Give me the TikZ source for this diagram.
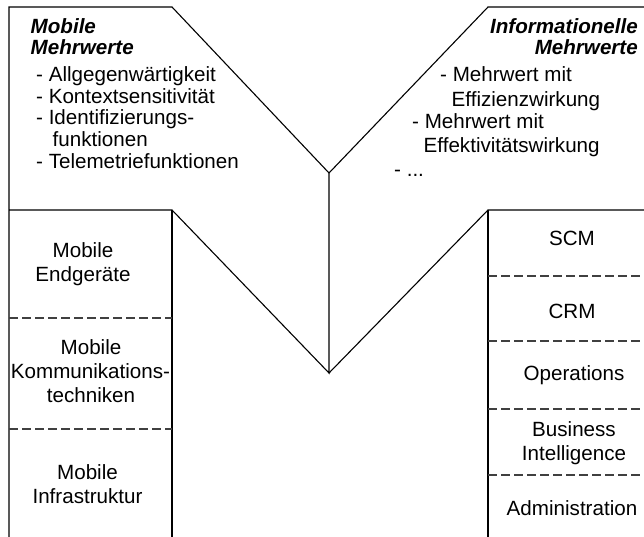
\documentclass[tikz,border=0pt]{standalone}
\usepackage{fontspec}
\setmainfont{Liberation Sans}
\begin{document}
\begin{tikzpicture}[x=1pt,y=-1pt,
  txt/.style={inner sep=0pt, font=\fontsize{20.6}{24}\selectfont},
  hdr/.style={inner sep=0pt, font=\fontsize{20.6}{24}\selectfont\bfseries\itshape},
  sepline/.style={dash pattern=on 9pt off 4pt, draw=black!75, line width=1.1pt},
  edge/.style={line width=1.1pt, line join=miter}]
\useasboundingbox (0,0) rectangle (644,537);
% outline coordinates
\coordinate (tl) at (9,7);
\coordinate (tlc) at (172,7);
\coordinate (vtop) at (329,173);
\coordinate (vbot) at (329,373);
\coordinate (lc) at (172,210);
\coordinate (ll) at (9,210);
\coordinate (lbl) at (9,537);
\coordinate (lbr) at (172,537);
\coordinate (trc) at (488,7);
\coordinate (tr) at (644,7);
\coordinate (rc) at (488,210);
\coordinate (rr) at (644,210);
\coordinate (rbl) at (488,537);
% outlines
\draw[edge] (lbl) -- (tl) -- (tlc) -- (vtop) -- (vbot) -- (lc) -- (ll);
\draw[edge] (lc) -- (lbr);
\draw[edge] (tr) -- (trc) -- (vtop);
\draw[edge] (vbot) -- (rc) -- (rr);
\draw[edge] (rc) -- (rbl);
% dashed separators
\coordinate (l1a) at (9,318);   \coordinate (l1b) at (172,318);
\coordinate (l2a) at (9,429);   \coordinate (l2b) at (172,429);
\coordinate (r1a) at (488,276); \coordinate (r1b) at (644,276);
\coordinate (r2a) at (488,341);   \coordinate (r2b) at (644,341);
\coordinate (r3a) at (488,409); \coordinate (r3b) at (644,409);
\coordinate (r4a) at (488,475);   \coordinate (r4b) at (644,475);
\draw[sepline] (l1a) -- (l1b);
\draw[sepline] (l2a) -- (l2b);
\draw[sepline] (r1a) -- (r1b);
\draw[sepline] (r2a) -- (r2b);
\draw[sepline] (r3a) -- (r3b);
\draw[sepline] (r4a) -- (r4b);
% left top text
\node[hdr, anchor=base west] (lh1) at (30.5,33.3) {Mobile};
\node[hdr, anchor=base west] (lh2) at (30.5,54.3) {Mehrwerte};
\node[txt, anchor=base west] (li1) at (36,81.7) {- Allgegenwärtigkeit};
\node[txt, anchor=base west] (li2) at (36,103.3) {- Kontextsensitivität};
\node[txt, anchor=base west] (li3) at (36,125) {- Identifizierungs-};
\node[txt, anchor=base west] (li4) at (52.5,146.7) {funktionen};
\node[txt, anchor=base west] (li5) at (36,168.3) {- Telemetriefunktionen};
% right top text
\node[hdr, anchor=base east] (rh1) at (638,34) {Informationelle};
\node[hdr, anchor=base east] (rh2) at (638,55) {Mehrwerte};
\node[txt, anchor=base west] (ri1) at (440,82) {- Mehrwert mit};
\node[txt, anchor=base west] (ri2) at (451.5,106.5) {Effizienzwirkung};
\node[txt, anchor=base west] (ri3) at (412,129) {- Mehrwert mit};
\node[txt, anchor=base west] (ri4) at (423.5,152.5) {Effektivitätswirkung};
\node[txt, anchor=base west] (ri5) at (394,177) {- ...};
% left column
\node[txt, anchor=base] (a1) at (83,257) {Mobile};
\node[txt, anchor=base] (a2) at (83,281) {Endgeräte};
\node[txt, anchor=base] (b1) at (91,354) {Mobile};
\node[txt, anchor=base] (b2) at (90.5,378) {Kommunikations-};
\node[txt, anchor=base] (b3) at (91,402) {techniken};
\node[txt, anchor=base] (c1) at (87.5,479) {Mobile};
\node[txt, anchor=base] (c2) at (87.5,503) {Infrastruktur};
% right column
\node[txt, anchor=base] (s1) at (572,245) {SCM};
\node[txt, anchor=base] (s2) at (572,318) {CRM};
\node[txt, anchor=base] (s3) at (574,380.7) {Operations};
\node[txt, anchor=base] (s4) at (574,436.7) {Business};
\node[txt, anchor=base] (s5) at (574,460) {Intelligence};
\node[txt, anchor=base] (s6) at (572,515.7) {Administration};
\end{tikzpicture}
\end{document}
